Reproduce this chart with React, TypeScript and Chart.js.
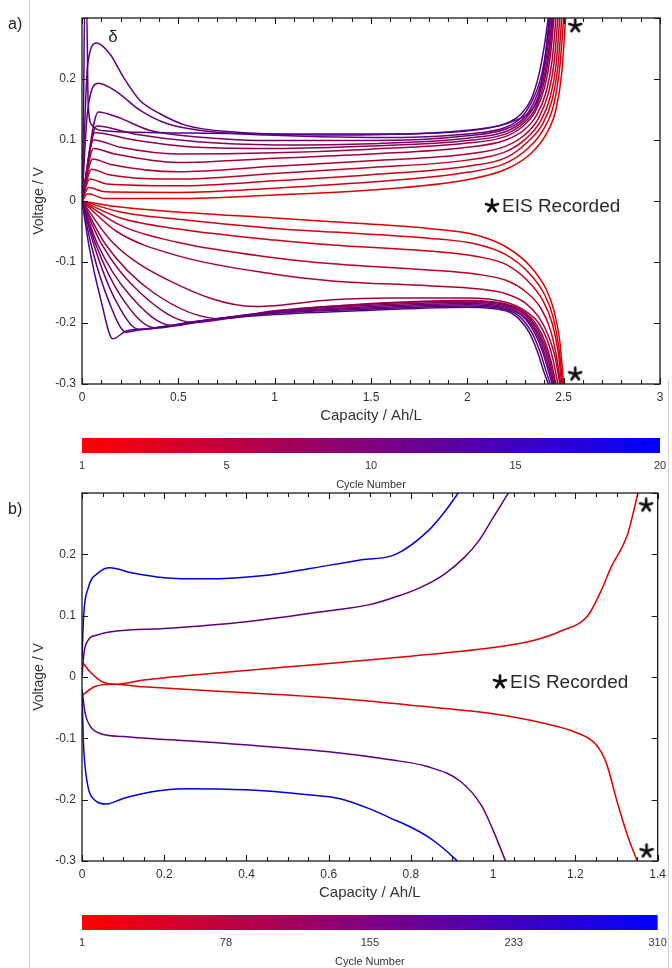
import React, { useEffect, useRef } from 'react';
import { Chart, registerables } from 'chart.js';
Chart.register(...registerables);

type Pt = [number, number];

// ---------------- Panel a data (cycles 1..13, colour scale 1..20) ----------------
const aCycles = [1, 2, 3, 4, 5, 6, 7, 8, 9, 10, 11, 12, 13];
const aMaxCycle = 20;
const aXTicks = [0, 0.5, 1, 1.5, 2, 2.5, 3];
const aYTicks = [-0.3, -0.2, -0.1, 0, 0.1, 0.2, 0.3];
const aBarLabels = ['1', '5', '10', '15', '20'];
const aStars: Pt[] = [[2.56, 0.287], [2.56, -0.284]];

const aCharge1: Pt[] = [[0,0],[0.03,0.012],[0.12,0.004],[0.5,0.004],[1.0,0.01],[1.5,0.018],[2.0,0.035],[2.2,0.052],[2.33,0.078],[2.41,0.11],[2.46,0.15],[2.49,0.21],[2.51,0.3]];
const aCharge2: Pt[] = [[0,0],[0.035,0.022],[0.12,0.015],[0.5,0.014],[1.0,0.021],[1.5,0.031],[2.0,0.047],[2.2,0.062],[2.32,0.088],[2.4,0.12],[2.45,0.16],[2.48,0.22],[2.5,0.3]];
const aCharge3: Pt[] = [[0,0],[0.04,0.036],[0.13,0.028],[0.5,0.025],[1.0,0.033],[1.5,0.043],[2.0,0.057],[2.2,0.071],[2.31,0.096],[2.39,0.126],[2.44,0.166],[2.47,0.22],[2.49,0.3]];
const aCharge4: Pt[] = [[0,0],[0.05,0.052],[0.14,0.043],[0.5,0.036],[1.0,0.045],[1.5,0.055],[2.0,0.067],[2.2,0.081],[2.3,0.101],[2.38,0.131],[2.43,0.17],[2.46,0.222],[2.48,0.3]];
const aCharge5: Pt[] = [[0,0],[0.055,0.069],[0.15,0.06],[0.5,0.048],[1.0,0.057],[1.5,0.066],[2.0,0.077],[2.2,0.09],[2.3,0.109],[2.37,0.136],[2.42,0.176],[2.45,0.226],[2.47,0.3]];
const aCharge6: Pt[] = [[0,0],[0.06,0.086],[0.17,0.077],[0.5,0.063],[1.0,0.07],[1.5,0.077],[2.0,0.088],[2.2,0.1],[2.3,0.118],[2.36,0.141],[2.41,0.18],[2.44,0.23],[2.46,0.3]];
const aCharge7: Pt[] = [[0,0],[0.06,0.1],[0.2,0.088],[0.5,0.077],[1.0,0.079],[1.5,0.085],[2.0,0.095],[2.2,0.106],[2.29,0.123],[2.35,0.145],[2.4,0.185],[2.43,0.235],[2.45,0.3]];
const aCharge8: Pt[] = [[0,0],[0.067,0.112],[0.27,0.1],[0.6,0.088],[1.0,0.086],[1.5,0.09],[2.0,0.099],[2.2,0.11],[2.29,0.127],[2.35,0.15],[2.395,0.19],[2.425,0.24],[2.445,0.3]];
const aCharge9: Pt[] = [[0,0],[0.076,0.123],[0.27,0.11],[0.6,0.097],[1.0,0.092],[1.5,0.094],[2.0,0.103],[2.2,0.114],[2.29,0.131],[2.345,0.154],[2.39,0.192],[2.42,0.242],[2.44,0.3]];
const aCharge10: Pt[] = [[0,0],[0.085,0.146],[0.18,0.138],[0.35,0.116],[0.6,0.105],[1.0,0.099],[1.5,0.099],[2.0,0.107],[2.2,0.118],[2.29,0.135],[2.34,0.158],[2.385,0.196],[2.415,0.246],[2.435,0.3]];
const aCharge11: Pt[] = [[0,0],[0.03,0.15],[0.085,0.193],[0.18,0.179],[0.3,0.149],[0.44,0.127],[0.61,0.116],[0.96,0.108],[1.5,0.104],[2.0,0.11],[2.2,0.121],[2.28,0.137],[2.33,0.16],[2.38,0.2],[2.41,0.25],[2.43,0.3]];
const aCharge12: Pt[] = [[0,0],[0.03,0.225],[0.076,0.259],[0.145,0.241],[0.215,0.203],[0.3,0.165],[0.405,0.143],[0.54,0.124],[0.79,0.113],[1.3,0.108],[1.8,0.111],[2.06,0.117],[2.24,0.131],[2.33,0.148],[2.37,0.171],[2.4,0.225],[2.425,0.3]];
const aCharge13: Pt[] = [[0,0],[0.008,0.15],[0.014,0.32],[0.024,0.32],[0.032,0.16],[0.05,0.125],[0.12,0.115],[0.4,0.112],[1.0,0.11],[1.6,0.11],[2.0,0.116],[2.2,0.127],[2.28,0.143],[2.33,0.166],[2.37,0.205],[2.4,0.255],[2.42,0.3]];

const aDischarge1: Pt[] = [[0,0],[0.2,-0.01],[0.5,-0.018],[1.0,-0.028],[1.3,-0.034],[1.8,-0.045],[2.05,-0.056],[2.2,-0.075],[2.33,-0.108],[2.41,-0.145],[2.45,-0.18],[2.48,-0.23],[2.5,-0.3]];
const aDischarge2: Pt[] = [[0,0],[0.2,-0.018],[0.5,-0.03],[1.0,-0.045],[1.3,-0.051],[1.8,-0.061],[2.05,-0.071],[2.2,-0.088],[2.32,-0.118],[2.4,-0.153],[2.445,-0.19],[2.475,-0.24],[2.495,-0.3]];
const aDischarge3: Pt[] = [[0,0],[0.2,-0.028],[0.5,-0.046],[1.0,-0.064],[1.3,-0.072],[1.8,-0.082],[2.05,-0.091],[2.2,-0.104],[2.31,-0.13],[2.39,-0.162],[2.44,-0.2],[2.47,-0.245],[2.49,-0.3]];
const aDischarge4: Pt[] = [[0,0],[0.2,-0.04],[0.5,-0.068],[1.0,-0.093],[1.3,-0.103],[1.8,-0.113],[2.05,-0.12],[2.2,-0.13],[2.3,-0.148],[2.38,-0.175],[2.43,-0.21],[2.46,-0.25],[2.485,-0.3]];
const aDischarge5: Pt[] = [[0,0],[0.18,-0.05],[0.5,-0.09],[1.0,-0.12],[1.3,-0.131],[1.8,-0.139],[2.05,-0.144],[2.2,-0.152],[2.3,-0.167],[2.37,-0.19],[2.42,-0.22],[2.455,-0.255],[2.48,-0.3]];
const aDischarge6: Pt[] = [[0,0],[0.15,-0.065],[0.45,-0.13],[0.9,-0.173],[1.3,-0.162],[1.6,-0.159],[2.0,-0.159],[2.2,-0.166],[2.3,-0.18],[2.37,-0.2],[2.415,-0.228],[2.445,-0.26],[2.47,-0.3]];
const aDischarge7: Pt[] = [[0,0],[0.12,-0.07],[0.37,-0.15],[0.72,-0.193],[1.0,-0.181],[1.5,-0.168],[2.0,-0.163],[2.2,-0.169],[2.3,-0.183],[2.36,-0.203],[2.405,-0.232],[2.435,-0.263],[2.46,-0.3]];
const aDischarge8: Pt[] = [[0,0],[0.1,-0.07],[0.3,-0.15],[0.58,-0.199],[0.8,-0.19],[1.0,-0.18],[1.5,-0.169],[2.0,-0.164],[2.2,-0.17],[2.3,-0.185],[2.355,-0.205],[2.4,-0.235],[2.43,-0.265],[2.455,-0.3]];
const aDischarge9: Pt[] = [[0,0],[0.08,-0.07],[0.25,-0.155],[0.47,-0.204],[0.6,-0.198],[0.8,-0.189],[1.0,-0.181],[1.5,-0.171],[2.0,-0.166],[2.2,-0.172],[2.3,-0.187],[2.35,-0.207],[2.395,-0.237],[2.425,-0.267],[2.45,-0.3]];
const aDischarge10: Pt[] = [[0,0],[0.07,-0.07],[0.2,-0.155],[0.38,-0.208],[0.5,-0.204],[0.7,-0.193],[1.0,-0.182],[1.5,-0.173],[2.0,-0.168],[2.2,-0.174],[2.29,-0.188],[2.345,-0.209],[2.39,-0.24],[2.42,-0.27],[2.445,-0.3]];
const aDischarge11: Pt[] = [[0,0],[0.06,-0.07],[0.17,-0.16],[0.3,-0.211],[0.4,-0.208],[0.6,-0.197],[1.0,-0.183],[1.5,-0.175],[2.0,-0.17],[2.2,-0.176],[2.29,-0.19],[2.34,-0.211],[2.385,-0.242],[2.415,-0.272],[2.44,-0.3]];
const aDischarge12: Pt[] = [[0,0],[0.05,-0.075],[0.14,-0.165],[0.23,-0.215],[0.3,-0.211],[0.45,-0.205],[0.7,-0.193],[1.0,-0.184],[1.5,-0.177],[2.0,-0.172],[2.2,-0.178],[2.28,-0.192],[2.33,-0.213],[2.375,-0.245],[2.405,-0.275],[2.43,-0.3]];
const aDischarge13: Pt[] = [[0,0],[0.04,-0.08],[0.1,-0.165],[0.16,-0.226],[0.23,-0.213],[0.35,-0.209],[0.6,-0.197],[1.0,-0.186],[1.5,-0.179],[2.0,-0.174],[2.2,-0.18],[2.27,-0.194],[2.32,-0.215],[2.365,-0.248],[2.395,-0.278],[2.42,-0.3]];

const aCharge = [aCharge1, aCharge2, aCharge3, aCharge4, aCharge5, aCharge6, aCharge7, aCharge8, aCharge9, aCharge10, aCharge11, aCharge12, aCharge13];
const aDischarge = [aDischarge1, aDischarge2, aDischarge3, aDischarge4, aDischarge5, aDischarge6, aDischarge7, aDischarge8, aDischarge9, aDischarge10, aDischarge11, aDischarge12, aDischarge13];

// ---------------- Panel b data (cycles 1, 180, 310, colour scale 1..310) ----------------
const bCycles = [1, 180, 310];
const bMaxCycle = 310;
const bXTicks = [0, 0.2, 0.4, 0.6, 0.8, 1, 1.2, 1.4];
const bYTicks = [-0.3, -0.2, -0.1, 0, 0.1, 0.2, 0.3];
const bBarLabels = ['1', '78', '155', '233', '310'];
const bStars: Pt[] = [[1.372, 0.28], [1.373, -0.284]];

const bCharge1: Pt[] = [[0,0.025],[0.02,0.008],[0.05,-0.008],[0.08,-0.012],[0.15,-0.005],[0.3,0.005],[0.6,0.022],[0.8,0.034],[1.0,0.048],[1.1,0.06],[1.165,0.075],[1.23,0.1],[1.262,0.14],[1.286,0.178],[1.327,0.233],[1.352,0.3]];
const bCharge180: Pt[] = [[0,0],[0.005,0.04],[0.015,0.06],[0.035,0.068],[0.085,0.075],[0.2,0.079],[0.4,0.09],[0.6,0.108],[0.7,0.118],[0.76,0.13],[0.82,0.145],[0.88,0.167],[0.93,0.195],[0.965,0.222],[1.0,0.26],[1.037,0.3]];
const bCharge310: Pt[] = [[0,0.03],[0.004,0.1],[0.015,0.145],[0.04,0.17],[0.068,0.178],[0.12,0.17],[0.2,0.162],[0.3,0.16],[0.45,0.166],[0.6,0.182],[0.68,0.191],[0.763,0.2],[0.843,0.239],[0.884,0.271],[0.915,0.3]];
const bDischarge1: Pt[] = [[0,-0.03],[0.03,-0.016],[0.07,-0.012],[0.15,-0.016],[0.3,-0.022],[0.6,-0.034],[0.8,-0.046],[1.0,-0.06],[1.12,-0.075],[1.2,-0.09],[1.25,-0.11],[1.275,-0.14],[1.3,-0.2],[1.325,-0.255],[1.35,-0.3]];
const bDischarge180: Pt[] = [[0,-0.02],[0.008,-0.06],[0.02,-0.08],[0.044,-0.092],[0.1,-0.097],[0.3,-0.106],[0.6,-0.122],[0.75,-0.135],[0.84,-0.146],[0.92,-0.17],[0.972,-0.21],[1.0,-0.25],[1.03,-0.3]];
const bDischarge310: Pt[] = [[0,-0.02],[0.003,-0.1],[0.01,-0.16],[0.03,-0.2],[0.06,-0.207],[0.1,-0.198],[0.17,-0.187],[0.25,-0.182],[0.4,-0.184],[0.55,-0.192],[0.625,-0.198],[0.7,-0.215],[0.75,-0.23],[0.8,-0.245],[0.84,-0.26],[0.88,-0.28],[0.913,-0.3]];

const bCharge = [bCharge1, bCharge180, bCharge310];
const bDischarge = [bDischarge1, bDischarge180, bDischarge310];

// ---------------- styling / layout ----------------
const FONT = '"Liberation Sans", Arial, Helvetica, sans-serif';
const TXT = '#333333';
const X_AXIS_H = 30;

interface Panel {
  key: string;
  letter: string;
  top: number;
  bottom: number;
  xMax: number;
  xTicks: number[];
  xMinor: number;
  yTicks: number[];
  cycles: number[];
  maxCycle: number;
  charge: Pt[][];
  discharge: Pt[][];
  stars: Pt[];
  barLabels: string[];
  legend: { x: number; y: number };
  delta?: { x: number; y: number };
}

const panelA: Panel = {
  key: 'a', letter: 'a)', top: 18, bottom: 384, xMax: 3, xTicks: aXTicks, xMinor: 0.1, yTicks: aYTicks,
  cycles: aCycles, maxCycle: aMaxCycle, charge: aCharge, discharge: aDischarge, stars: aStars,
  barLabels: aBarLabels, legend: { x: 492, y: 206 }, delta: { x: 113, y: 37 },
};
const panelB: Panel = {
  key: 'b', letter: 'b)', top: 493, bottom: 861, xMax: 1.4, xTicks: bXTicks, xMinor: 0.05, yTicks: bYTicks,
  cycles: bCycles, maxCycle: bMaxCycle, charge: bCharge, discharge: bDischarge, stars: bStars,
  barLabels: bBarLabels, legend: { x: 500, y: 682 },
};

function cmap(cycle: number, max: number, k = 1): string {
  const t = (cycle - 1) / (max - 1);
  return `rgb(${Math.round(255 * (1 - t) * k)},0,${Math.round(255 * t * k)})`;
}

function makeStar(): HTMLCanvasElement {
  const s = 16;
  const c = document.createElement('canvas');
  c.width = s; c.height = s;
  const g = c.getContext('2d')!;
  g.strokeStyle = '#111'; g.lineWidth = 2.7; g.lineCap = 'round';
  const cx = s / 2, cy = s / 2, r = 6.3;
  for (let i = 0; i < 5; i++) {
    const a = -Math.PI / 2 + (i * 2 * Math.PI) / 5;
    g.beginPath(); g.moveTo(cx, cy); g.lineTo(cx + r * Math.cos(a), cy + r * Math.sin(a)); g.stroke();
  }
  return c;
}

function fmt(v: number): string {
  const r = Math.round(v * 10) / 10;
  return String(r === 0 ? 0 : r);
}

function panelPlugin(p: Panel, star: HTMLCanvasElement) {
  return {
    id: 'panelDeco' + p.key,
    afterDraw(chart: any) {
      const { ctx, chartArea: ca, scales } = chart;
      const xs = scales.x, ys = scales.y;
      ctx.save();
      // faint frame lines of the original figure
      ctx.strokeStyle = '#d4d4d4'; ctx.lineWidth = 1;
      if (p.key === 'a') {
        ctx.beginPath(); ctx.moveTo(29.5, 0); ctx.lineTo(29.5, 968); ctx.moveTo(668.5, 380); ctx.lineTo(668.5, 968); ctx.stroke();
      }
      // box
      ctx.strokeStyle = '#1a1a1a'; ctx.lineWidth = 1.3;
      ctx.strokeRect(ca.left, ca.top, ca.right - ca.left, ca.bottom - ca.top);
      // x ticks (major + minor) inward on bottom and top, y ticks on both sides
      ctx.lineWidth = 1.1;
      ctx.beginPath();
      const nMinor = Math.round(p.xMax / p.xMinor);
      for (let i = 0; i <= nMinor; i++) {
        const v = i * p.xMinor;
        const px = Math.round(xs.getPixelForValue(v)) + 0.5;
        const isMajor = p.xTicks.some((t) => Math.abs(t - v) < 1e-9);
        const len = isMajor ? 6 : 4;
        ctx.moveTo(px, ca.bottom); ctx.lineTo(px, ca.bottom - len);
        ctx.moveTo(px, ca.top); ctx.lineTo(px, ca.top + len);
      }
      for (const t of p.yTicks) {
        const py = Math.round(ys.getPixelForValue(t)) + 0.5;
        ctx.moveTo(ca.left, py); ctx.lineTo(ca.left + 6, py);
        ctx.moveTo(ca.right, py); ctx.lineTo(ca.right - 6, py);
      }
      ctx.stroke();

      // axis titles
      ctx.fillStyle = TXT;
      ctx.font = `15px ${FONT}`;
      ctx.textAlign = 'center'; ctx.textBaseline = 'middle';
      ctx.fillText('Capacity / Ah/L', (ca.left + ca.right) / 2, ca.bottom + 32);
      ctx.save();
      ctx.translate(39, (ca.top + ca.bottom) / 2);
      ctx.rotate(-Math.PI / 2);
      ctx.font = `14px ${FONT}`;
      ctx.fillText('Voltage / V', 0, 0);
      ctx.restore();

      // colour bar
      const barTop = ca.bottom + 54, barH = 15;
      const grad = ctx.createLinearGradient(ca.left, 0, ca.right, 0);
      grad.addColorStop(0, cmap(1, p.maxCycle));
      grad.addColorStop(1, cmap(p.maxCycle, p.maxCycle));
      ctx.fillStyle = grad;
      ctx.fillRect(ca.left, barTop, ca.right - ca.left, barH);
      ctx.fillStyle = TXT;
      ctx.font = `11px ${FONT}`;
      p.barLabels.forEach((lab, i) => {
        const px = ca.left + (i / (p.barLabels.length - 1)) * (ca.right - ca.left);
        ctx.fillText(lab, px, ca.bottom + 82);
      });
      ctx.fillText('Cycle Number', (ca.left + ca.right) / 2, ca.bottom + 101);

      // panel letter
      ctx.font = `16px ${FONT}`;
      ctx.fillStyle = '#222';
      ctx.textAlign = 'left';
      ctx.fillText(p.letter, 8, ca.top + (p.key === 'a' ? 7 : 17));
      if (p.delta) {
        ctx.textAlign = 'center';
        ctx.font = `17px ${FONT}`;
        ctx.fillText('δ', p.delta.x, p.delta.y);
      }

      // legend
      ctx.drawImage(star, p.legend.x - star.width / 2, p.legend.y - star.height / 2);
      ctx.textAlign = 'left';
      ctx.font = `19px ${FONT}`;
      ctx.fillStyle = '#2a2a2a';
      ctx.fillText('EIS Recorded', p.legend.x + 10, p.legend.y + 1);
      ctx.restore();
    },
  };
}

function buildConfig(p: Panel, star: HTMLCanvasElement): any {
  const datasets: any[] = [];
  const mk = (curve: Pt[], cycle: number) => ({
    type: 'line',
    data: curve.map(([x, y]) => ({ x, y })),
    borderColor: cmap(cycle, p.maxCycle, 0.88),
    borderWidth: 1.5,
    pointRadius: 0,
    fill: false,
    cubicInterpolationMode: 'monotone',
    order: 1000 - cycle,
  });
  p.charge.forEach((c, i) => datasets.push(mk(c, p.cycles[i])));
  p.discharge.forEach((c, i) => datasets.push(mk(c, p.cycles[i])));
  datasets.push({
    type: 'scatter',
    data: p.stars.map(([x, y]) => ({ x, y })),
    pointStyle: star,
    pointRadius: 8,
    showLine: false,
    order: -1,
    clip: false,
  });
  const tickFont = { family: FONT, size: 12 };
  return {
    type: 'line',
    data: { datasets },
    options: {
      responsive: false,
      animation: false,
      events: [],
      layout: { padding: { top: p.top, left: 0, right: 12, bottom: 968 - p.bottom - X_AXIS_H } },
      plugins: { legend: { display: false }, tooltip: { enabled: false }, title: { display: false } },
      scales: {
        x: {
          type: 'linear', min: 0, max: p.xMax,
          grid: { display: false, drawTicks: false, tickLength: 0 }, border: { display: false },
          afterBuildTicks: (s: any) => { s.ticks = p.xTicks.map((v) => ({ value: v })); },
          afterFit: (s: any) => { s.height = X_AXIS_H; },
          ticks: { font: tickFont, color: TXT, padding: 6, maxRotation: 0, autoSkip: false,
            callback: (v: any) => fmt(Number(v)) },
        },
        y: {
          type: 'linear', min: -0.3, max: 0.3,
          grid: { display: false, drawTicks: false, tickLength: 0 }, border: { display: false },
          afterBuildTicks: (s: any) => { s.ticks = p.yTicks.map((v) => ({ value: v })); },
          afterFit: (s: any) => { s.width = 82; },
          ticks: { font: tickFont, color: TXT, padding: 6, autoSkip: false,
            callback: (v: any) => (Math.abs(Number(v) - 0.3) < 1e-9 ? '' : fmt(Number(v))) },
        },
      },
    },
    plugins: [panelPlugin(p, star)],
  };
}

export default function App() {
  const refA = useRef<HTMLCanvasElement>(null);
  const refB = useRef<HTMLCanvasElement>(null);
  useEffect(() => {
    const star = makeStar();
    const ca = new Chart(refA.current!, buildConfig(panelA, star));
    const cb = new Chart(refB.current!, buildConfig(panelB, star));
    return () => { ca.destroy(); cb.destroy(); };
  }, []);
  return (
    <div style={{ position: 'absolute', left: 0, top: 0, width: 672, height: 968, background: '#fff' }}>
      <canvas ref={refA} width={672} height={968} style={{ position: 'absolute', left: 0, top: 0 }} />
      <canvas ref={refB} width={672} height={968} style={{ position: 'absolute', left: 0, top: 0 }} />
    </div>
  );
}
